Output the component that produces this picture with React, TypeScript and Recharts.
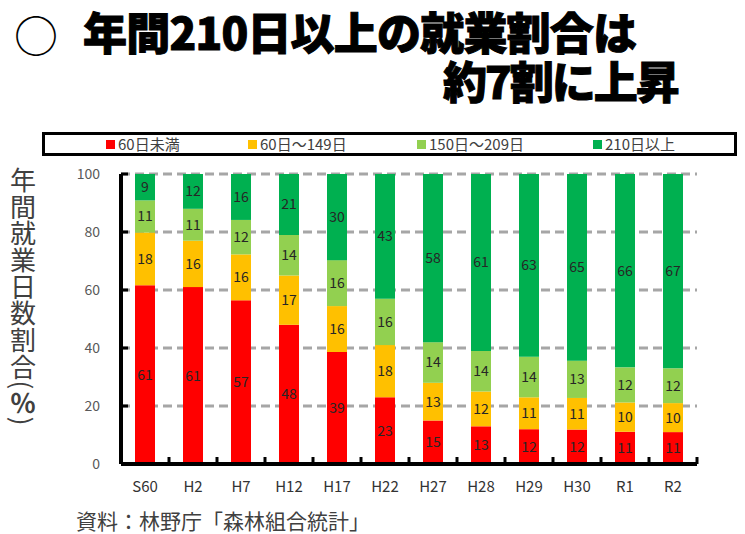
import React from 'react';
import { BarChart, Bar, XAxis, YAxis, CartesianGrid, LabelList, Legend } from 'recharts';

const categories = ['S60', 'H2', 'H7', 'H12', 'H17', 'H22', 'H27', 'H28', 'H29', 'H30', 'R1', 'R2'];
const under60 = [61, 61, 57, 48, 39, 23, 15, 13, 12, 12, 11, 11];
const d60to149 = [18, 16, 16, 17, 16, 18, 13, 12, 11, 11, 10, 10];
const d150to209 = [11, 11, 12, 14, 16, 16, 14, 14, 14, 13, 12, 12];
const over210 = [9, 12, 16, 21, 30, 43, 58, 61, 63, 65, 66, 67];
const seriesKeys = ['under60', 'd60to149', 'd150to209', 'over210'];
const seriesNames = ['60日未満', '60日～149日', '150日～209日', '210日以上'];
const seriesColors = ['#FF0000', '#FFC000', '#92D050', '#00B050'];
const yTicks = [0, 20, 40, 60, 80, 100];
const titleLine1 = '年間210日以上の就業割合は';
const titleLine2 = '約7割に上昇';
const yLabelMain = '年間就業日数割合(';
const yLabelUnit = '％';
const yLabelEnd = ')';
const sourceText = '資料：林野庁「森林組合統計」';

const FONT = "'Noto Sans CJK JP', 'Noto Sans', sans-serif";

const data = categories.map((c, i) => ({
  name: c,
  under60: under60[i],
  d60to149: d60to149[i],
  d150to209: d150to209[i],
  over210: over210[i],
}));

const XTick = (props: any) => {
  const { x, y, payload, index, visibleTicksCount } = props;
  const off = payload && typeof payload.offset === 'number' && payload.offset > 0 ? payload.offset : 24;
  const axisY = y - 17;
  return (
    <g>
      <text x={x} y={y} dy="0.71em" textAnchor="middle" fill="#333" fontSize={15} fontFamily={FONT}>
        {payload.value}
      </text>
      <line x1={x - off} x2={x - off} y1={axisY - 7} y2={axisY} stroke="#000" strokeWidth={3} />
      {index === visibleTicksCount - 1 && (
        <line x1={x + off} x2={x + off} y1={axisY - 7} y2={axisY} stroke="#000" strokeWidth={3} />
      )}
    </g>
  );
};

const YTick = (props: any) => {
  const { x, y, payload } = props;
  const axisX = x + 21;
  const v = Math.round(payload.value * 100);
  return (
    <g>
      <text x={x} y={y} dy="0.355em" textAnchor="end" fill="#595959" fontSize={14} fontFamily={FONT}>
        {String(v)}
      </text>
      {v !== 0 && <line x1={axisX} x2={axisX + 7} y1={y} y2={y} stroke="#000" strokeWidth={3} />}
    </g>
  );
};

const itemWidths = [142, 169, 176, 140];

const renderLegend = () => (
  <div
    style={{
      boxSizing: 'border-box',
      width: 695,
      height: 24,
      border: '3px solid #000',
      display: 'flex',
      alignItems: 'center',
      paddingLeft: 61,
      fontFamily: FONT,
      fontSize: 15,
      color: '#404040',
      background: '#fff',
    }}
  >
    {seriesNames.map((n, i) => (
      <div key={n} style={{ display: 'flex', alignItems: 'center', width: itemWidths[i], whiteSpace: 'nowrap' }}>
        <span style={{ display: 'inline-block', width: 9, height: 9, background: seriesColors[i], marginRight: 3 }} />
        <span style={{ lineHeight: '18px' }}>{n}</span>
      </div>
    ))}
  </div>
);

export default function App() {
  return (
    <div style={{ position: 'absolute', left: 0, top: 0, width: 745, height: 534, background: '#fff', overflow: 'hidden' }}>
      <BarChart
        width={745}
        height={534}
        data={data}
        stackOffset="expand"
        barSize={20}
        margin={{ top: 174, right: 48, bottom: 40, left: 0 }}
      >
        <CartesianGrid vertical={false} stroke="#A6A6A6" strokeWidth={3} strokeDasharray="9 5" />
        <XAxis
          dataKey="name"
          interval={0}
          height={30}
          axisLine={{ stroke: '#000', strokeWidth: 4 }}
          tickLine={false}
          tickSize={0}
          tickMargin={17}
          tick={XTick}
        />
        <YAxis
          domain={[0, 1]}
          ticks={yTicks.map((v) => v / 100)}
          width={121}
          axisLine={{ stroke: '#000', strokeWidth: 4 }}
          tickLine={false}
          tickSize={0}
          tickMargin={21}
          tick={YTick}
        />
        <Legend
          layout="horizontal"
          verticalAlign="middle"
          align="center"
          content={renderLegend}
          wrapperStyle={{ left: 42, top: 132, width: 695, height: 24 }}
        />
        {seriesKeys.map((k, i) => (
          <Bar key={k} dataKey={k} name={seriesNames[i]} stackId="a" fill={seriesColors[i]} isAnimationActive={false}>
            <LabelList dataKey={k} position="center" fill="#262626" fontSize={14} fontFamily={FONT} />
          </Bar>
        ))}
      </BarChart>
      <svg width={745} height={534} style={{ position: 'absolute', left: 0, top: 0, pointerEvents: 'none' }}>
        <text x={36} y={34} textAnchor="middle" dominantBaseline="central" fontSize={44} fontFamily={FONT} fill="#000">
          ○
        </text>
        <text
          x={23}
          y={167}
          fontSize={26}
          fontFamily={FONT}
          fill="#404040"
          letterSpacing={0.7}
          style={{ writingMode: 'vertical-rl' }}
        >
          {yLabelMain}
          <tspan fontWeight={700}>{yLabelUnit}</tspan>
          {yLabelEnd}
        </text>
        <text x={76} y={529} fontSize={21} fontFamily={FONT} fill="#404040" textLength={294} lengthAdjust="spacing">
          {sourceText}
        </text>
      </svg>
      <div
        style={{
          position: 'absolute',
          left: 83,
          top: 7.35,
          fontFamily: FONT,
          fontSize: 44,
          fontWeight: 900,
          lineHeight: '49px',
          color: '#000',
          whiteSpace: 'nowrap',
          WebkitTextStroke: '1px #000',
          pointerEvents: 'none',
        }}
      >
        <div style={{ letterSpacing: -0.8, width: 550 }}>{titleLine1}</div>
        <div style={{ letterSpacing: -2, marginLeft: 360, width: 235 }}>{titleLine2}</div>
      </div>
    </div>
  );
}
